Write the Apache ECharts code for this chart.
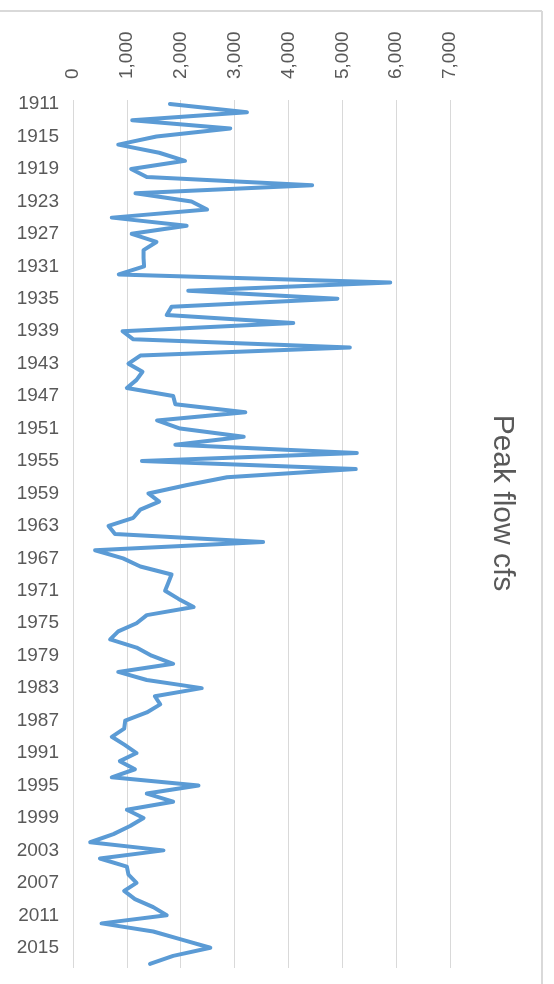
<!DOCTYPE html>
<html>
<head>
<meta charset="utf-8">
<script src="https://cdn.jsdelivr.net/npm/echarts@6/dist/echarts.min.js"></script>
<style>
  html, body { margin: 0; padding: 0; background: #fff; }
  #chart { width: 554px; height: 984px; }
</style>
</head>
<body>
<div id="chart"></div>
<script>
const years = [
    1911, 1912, 1913, 1914, 1915, 1916, 1917, 1918, 1919, 1920,
    1921, 1922, 1923, 1924, 1925, 1926, 1927, 1928, 1929, 1930,
    1931, 1932, 1933, 1934, 1935, 1936, 1937, 1938, 1939, 1940,
    1941, 1942, 1943, 1944, 1945, 1946, 1947, 1948, 1949, 1950,
    1951, 1952, 1953, 1954, 1955, 1956, 1957, 1958, 1959, 1960,
    1961, 1962, 1963, 1964, 1965, 1966, 1967, 1968, 1969, 1970,
    1971, 1972, 1973, 1974, 1975, 1976, 1977, 1978, 1979, 1980,
    1981, 1982, 1983, 1984, 1985, 1986, 1987, 1988, 1989, 1990,
    1991, 1992, 1993, 1994, 1995, 1996, 1997, 1998, 1999, 2000,
    2001, 2002, 2003, 2004, 2005, 2006, 2007, 2008, 2009, 2010,
    2011, 2012, 2013, 2014, 2015, 2016, 2017
];

// peak flow (cfs) per year
const peakFlow = [
    1800, 3230, 1100, 2920, 1550, 840, 1600, 2080, 1080, 1370,
    4440, 1160, 2200, 2490, 720, 2110, 1090, 1550, 1310, 1310,
    1320, 850, 5890, 2140, 4910, 1830, 1740, 4090, 920, 1120,
    5140, 1250, 1030, 1290, 1180, 1000, 1860, 1900, 3200, 1560,
    1990, 3170, 1900, 5270, 1280, 5250, 2860, 2100, 1400, 1600,
    1250, 1120, 660, 780, 3530, 410, 930, 1250, 1830, 1770,
    1710, 1960, 2240, 1370, 1180, 840, 690, 1180, 1460, 1860,
    840, 1370, 2390, 1520, 1620, 1370, 970, 950, 720, 960,
    1180, 870, 1150, 720, 2330, 1370, 1860, 1000, 1310, 1060,
    750, 320, 1680, 500, 1000, 1030, 1180, 950, 1150, 1490,
    1740, 530, 1490, 2020, 2550, 1860, 1430
];

const titleText = 'Peak flow cfs';
const font = '"Liberation Sans", Arial, sans-serif';

const myChart = echarts.init(document.getElementById('chart'));

myChart.setOption({
    animation: false,
    grid: {
        left: 73,
        right: 104,
        top: 100,
        bottom: 16,
        containLabel: false
    },
    xAxis: {
        type: 'value',
        position: 'top',
        min: 0,
        max: 7000,
        interval: 1000,
        axisLine: { show: false },
        axisTick: { show: false },
        splitLine: { lineStyle: { color: '#d9d9d9', width: 1 } },
        axisLabel: {
            rotate: -90,
            margin: 21,
            color: '#595959',
            fontSize: 19,
            fontFamily: font,
            formatter: (v) => v.toLocaleString('en-US')
        }
    },
    yAxis: {
        type: 'category',
        inverse: true,
        data: years,
        axisLine: { show: false },
        axisTick: { show: false },
        axisLabel: {
            interval: 3,
            margin: 14,
            color: '#595959',
            fontSize: 19,
            fontFamily: font
        }
    },
    series: [{
        type: 'line',
        data: peakFlow,
        symbol: 'none',
        smooth: false,
        lineStyle: {
            color: '#5b9bd5',
            width: 4,
            join: 'round',
            cap: 'round'
        }
    }],
    graphic: [
        {
            type: 'line',
            shape: { x1: 0, y1: 11, x2: 542, y2: 11 },
            style: { stroke: '#d9d9d9', lineWidth: 2 }
        },
        {
            type: 'line',
            shape: { x1: 542, y1: 11, x2: 542, y2: 984 },
            style: { stroke: '#d9d9d9', lineWidth: 2 }
        },
        {
            type: 'text',
            x: 502,
            y: 503,
            rotation: -Math.PI / 2,
            style: {
                text: titleText,
                fill: '#595959',
                font: '30px ' + font,
                textAlign: 'center',
                textVerticalAlign: 'middle'
            }
        }
    ]
});
</script>
</body>
</html>
